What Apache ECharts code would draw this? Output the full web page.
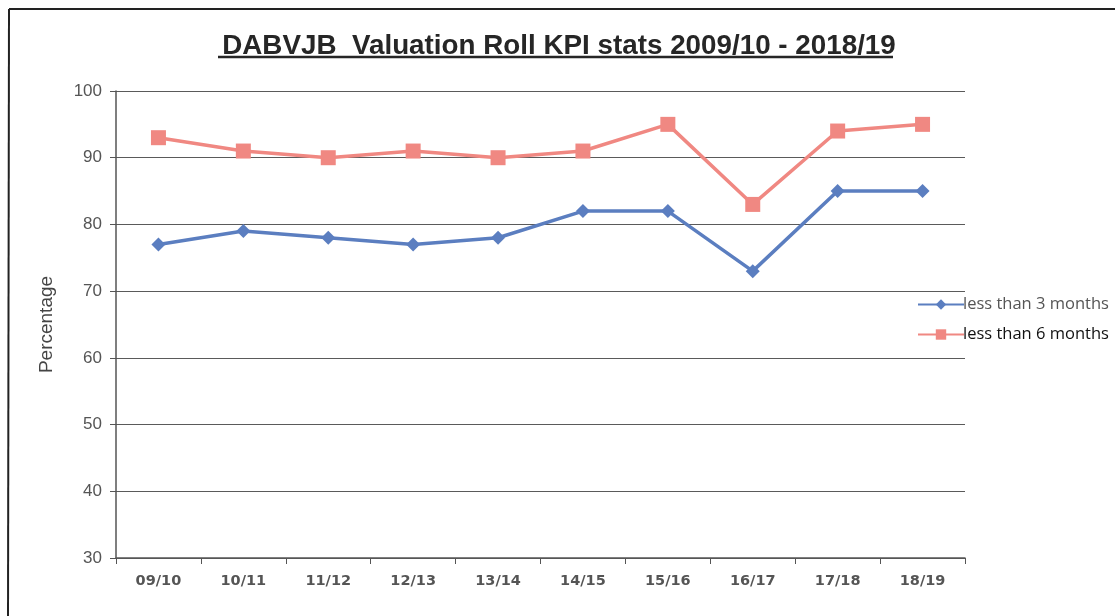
<!DOCTYPE html>
<html>
<head>
<meta charset="utf-8">
<script src="https://cdn.jsdelivr.net/npm/echarts@6/dist/echarts.min.js"></script>
<style>html,body{margin:0;padding:0;background:#fff;}#c{width:1115px;height:616px;}</style>
</head>
<body>
<div id="c"></div>
<script>
const categories = ['09/10','10/11','11/12','12/13','13/14','14/15','15/16','16/17','17/18','18/19'];
const less3 = [77, 79, 78, 77, 78, 82, 82, 73, 85, 85];
const less6 = [93, 91, 90, 91, 90, 91, 95, 83, 94, 95];
const seriesNames = ['less than 3 months', 'less than 6 months'];
const yTicks = {min: 30, max: 100, interval: 10};

const chart = echarts.init(document.getElementById('c'), null, {renderer: 'canvas'});
chart.setOption({
  backgroundColor: '#ffffff',
  animation: false,
  title: {
    text: 'DABVJB  Valuation Roll KPI stats 2009/10 - 2018/19',
    left: 554, top: 27, textAlign: 'center',
    textStyle: {fontFamily: 'Liberation Sans', fontWeight: 'bold', fontSize: 27.8, color: '#262626'}
  },
  graphic: [
    {type: 'line', shape: {x1: 9, y1: 9, x2: 1115, y2: 9}, style: {stroke: '#222', lineWidth: 2}},
    {type: 'line', shape: {x1: 9, y1: 9, x2: 8, y2: 616}, style: {stroke: '#222', lineWidth: 2}},
    {type: 'line', shape: {x1: 218, y1: 57, x2: 893, y2: 57}, style: {stroke: '#262626', lineWidth: 2.5}}
  ],
  legend: {
    orient: 'vertical', left: 912, top: 291, itemGap: 13,
    itemWidth: 46, itemHeight: 13,
    textStyle: {fontFamily: 'Open Sans', fontSize: 16.5, padding: [0,0,0,-6]},
    data: [
      {name: seriesNames[0], textStyle: {color: '#555'}},
      {name: seriesNames[1], textStyle: {color: '#111'}}
    ]
  },
  grid: {left: 116, right: 150, top: 91, bottom: 58},
  xAxis: {
    type: 'category', data: categories, boundaryGap: true,
    axisLine: {lineStyle: {color: '#555', width: 1.5}},
    axisTick: {show: true, length: 6, lineStyle: {color: '#555'}},
    axisLabel: {fontFamily: 'DejaVu Sans', fontWeight: 'bold', fontSize: 14.5, color: '#555', margin: 16}
  },
  yAxis: {
    type: 'value', min: yTicks.min, max: yTicks.max, interval: yTicks.interval,
    name: 'Percentage', nameLocation: 'middle', nameGap: 60, nameRotate: 90,
    nameTextStyle: {fontFamily: 'Liberation Sans', fontSize: 19, color: '#444'},
    axisLine: {show: true, lineStyle: {color: '#555', width: 1.5}},
    axisTick: {show: true, length: 6, lineStyle: {color: '#555'}},
    axisLabel: {fontFamily: 'Liberation Sans', fontSize: 17, color: '#555', margin: 14},
    splitLine: {lineStyle: {color: '#5a5a5a', width: 1.2}}
  },
  series: [
    {
      name: seriesNames[0], type: 'line', data: less3,
      symbol: 'diamond', symbolSize: 14,
      itemStyle: {color: '#5b7ec0'},
      lineStyle: {color: '#5b7ec0', width: 3.5}
    },
    {
      name: seriesNames[1], type: 'line', data: less6,
      symbol: 'rect', symbolSize: 15,
      itemStyle: {color: '#f08882'},
      lineStyle: {color: '#f08882', width: 3.5}
    }
  ]
});
</script>
</body>
</html>
